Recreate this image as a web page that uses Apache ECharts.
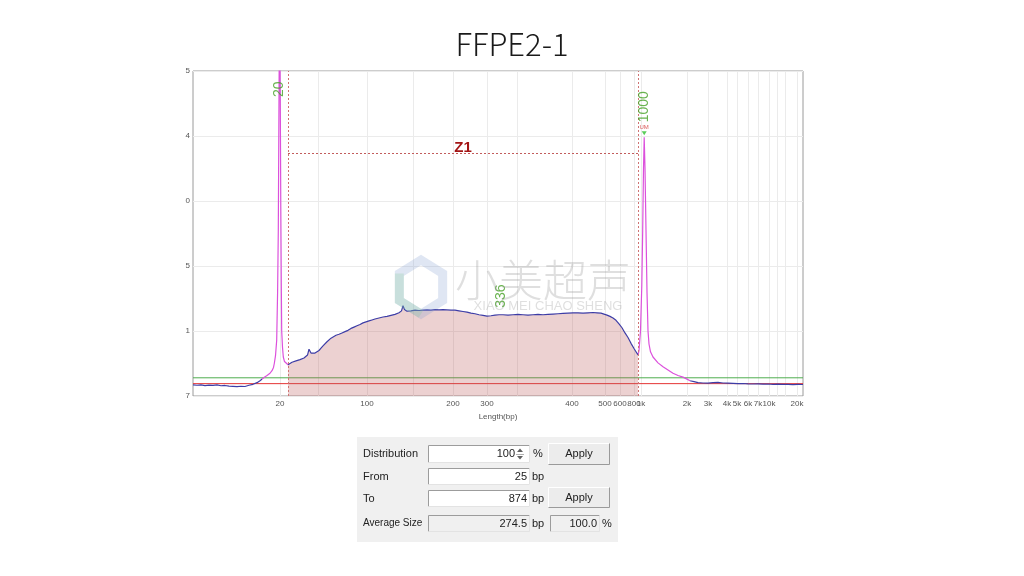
<!DOCTYPE html>
<html>
<head>
<meta charset="utf-8">
<script src="https://cdn.jsdelivr.net/npm/echarts@6/dist/echarts.min.js"></script>
<style>
  html, body { margin: 0; padding: 0; background: #ffffff; }
  #chart { width: 1024px; height: 576px; }
</style>
</head>
<body>
<div id="chart"></div>
<script>
// Electropherogram of sample FFPE2-1: fluorescence signal against migration time,
// with the size ladder (bp) printed along the time axis, plus the smear-analysis panel.

const sampleTitle = 'FFPE2-1';

// Size ladder: printed size and its migration time (s)
const ladderLabels = ['20', '100', '200', '300', '400', '500', '600', '800', '1k', '2k', '3k', '4k', '5k', '6k', '7k', '10k', '20k'];
const ladderTimes  = [8.7, 17.4, 26.0, 29.4, 37.9, 41.2, 42.7, 44.1, 44.8, 49.4, 51.5, 53.4, 54.4, 55.5, 56.5, 57.6, 60.4];
// further grid positions without a printed size
const minorGridTimes = [12.5, 22.0, 32.4, 58.4, 59.2];

// y tick text as printed (cut off at the left margin of the trace window)
const yTickLabels = ['7', '1', '5', '0', '4', '5'];

// Signal trace [time (s), signal]
const signalTrace = [
  [0.0, 0.170], [0.4, 0.165], [0.8, 0.172], [1.2, 0.160], [1.6, 0.168], [2.0, 0.163], [2.4, 0.170],
  [2.8, 0.158], [3.2, 0.162], [3.6, 0.152], [4.0, 0.148], [4.4, 0.143], [4.8, 0.150], [5.2, 0.146],
  [5.6, 0.165], [6.0, 0.180], [6.4, 0.205], [6.7, 0.235], [6.9, 0.260],
  // lower marker
  [7.1, 0.285], [7.4, 0.315], [7.7, 0.350], [7.9, 0.390], [8.05, 0.440], [8.13, 0.500], [8.25, 0.620],
  [8.37, 0.860], [8.46, 1.600], [8.53, 2.550], [8.60, 4.600], [8.66, 6.200], [8.72, 4.800], [8.78, 2.900],
  [8.83, 1.700], [8.87, 1.000], [8.95, 0.750], [9.03, 0.600], [9.15, 0.530], [9.30, 0.500], [9.5, 0.480],
  // sample smear
  [9.7, 0.500], [9.9, 0.520], [10.1, 0.515], [10.3, 0.540], [10.5, 0.550], [10.7, 0.560], [10.9, 0.575],
  [11.1, 0.585], [11.3, 0.600], [11.45, 0.630], [11.6, 0.720], [11.7, 0.690], [11.8, 0.660], [12.0, 0.645],
  [12.2, 0.660], [12.4, 0.680], [12.6, 0.700], [12.8, 0.735], [13.0, 0.770], [13.2, 0.800], [13.4, 0.835],
  [13.6, 0.860], [13.8, 0.890], [14.0, 0.915], [14.3, 0.935], [14.6, 0.950], [14.9, 0.970], [15.2, 0.990],
  [15.5, 1.010], [15.8, 1.040], [16.1, 1.060], [16.4, 1.080], [16.7, 1.100], [17.0, 1.125], [17.3, 1.140],
  [17.6, 1.155], [17.9, 1.170], [18.2, 1.185], [18.6, 1.200], [19.0, 1.215], [19.4, 1.225], [19.8, 1.240],
  [20.2, 1.255], [20.6, 1.280], [20.85, 1.310], [21.0, 1.390], [21.15, 1.330], [21.4, 1.305], [21.8, 1.310],
  [22.2, 1.320], [22.6, 1.315], [23.0, 1.320], [23.4, 1.325], [23.8, 1.320], [24.2, 1.330], [24.6, 1.325],
  [25.0, 1.330], [25.4, 1.325], [25.8, 1.320], [26.2, 1.320], [26.6, 1.310], [27.0, 1.300], [27.4, 1.290],
  [27.8, 1.275], [28.2, 1.265], [28.6, 1.250], [29.0, 1.240], [29.4, 1.230], [29.8, 1.235], [30.2, 1.245],
  [30.6, 1.250], [31.0, 1.250], [31.5, 1.245], [32.0, 1.250], [32.5, 1.255], [33.0, 1.250], [33.5, 1.245],
  [34.0, 1.250], [34.5, 1.255], [35.0, 1.250], [35.5, 1.255], [36.0, 1.260], [36.5, 1.265], [37.0, 1.270],
  [37.5, 1.275], [38.0, 1.280], [38.5, 1.280], [39.0, 1.275], [39.5, 1.280], [40.0, 1.285], [40.4, 1.280],
  [40.8, 1.275], [41.1, 1.260], [41.4, 1.245], [41.7, 1.225], [42.0, 1.200], [42.3, 1.165], [42.6, 1.110],
  [42.9, 1.050], [43.2, 0.970], [43.5, 0.900], [43.8, 0.810], [44.1, 0.730], [44.3, 0.680], [44.5, 0.630],
  // upper marker
  [44.6, 0.700], [44.75, 1.000], [44.88, 1.700], [44.97, 2.550], [45.05, 3.500], [45.12, 3.980], [45.2, 3.500],
  [45.3, 2.550], [45.4, 1.600], [45.5, 1.000], [45.6, 0.800], [45.75, 0.680], [46.0, 0.600], [46.5, 0.510],
  [47.0, 0.450], [47.5, 0.400], [48.0, 0.350], [48.5, 0.315], [49.0, 0.290], [49.4, 0.260], [49.7, 0.235],
  // tail
  [50.1, 0.220], [50.5, 0.205], [51.0, 0.200], [51.5, 0.197], [52.0, 0.205], [52.5, 0.210], [53.0, 0.200],
  [53.5, 0.198], [54.0, 0.195], [54.5, 0.190], [55.0, 0.192], [55.5, 0.188], [56.0, 0.185], [56.5, 0.187],
  [57.0, 0.183], [57.5, 0.185], [58.0, 0.180], [58.5, 0.182], [59.0, 0.178], [59.5, 0.180], [60.0, 0.176],
  [60.5, 0.178], [61.0, 0.177]
];

// time windows of the lower and upper marker peaks
const markerWindows = [[6.9, 9.5], [44.5, 49.7]];

// horizontal levels
const thresholdLevel = 0.28;
const baselineLevel = 0.19;

// called peaks
const peakSizes   = ['20', '336', '1000'];
const peakTimes   = [8.66, 30.8, 45.12];
const peakHeights = [6.2, 1.25, 3.98];
const upperMarkerIndex = 2;

// smear zone
const zoneName  = 'Z1';
const zoneTimes = [9.5, 44.5];
const zoneLevel = 3.74;

// smear analysis panel
const panelLabels  = ['Distribution', 'From', 'To', 'Average Size'];
const panelValues  = ['100', '25', '874', '274.5'];
const panelUnits   = ['%', 'bp', 'bp', 'bp'];
const panelPercent = '100.0';
const buttonText   = 'Apply';

// ---------------------------------------------------------------------------
const tMin = 0, tMax = 61, yMin = 0, yMax = 5;
const sampleColor = '#3d3da6';
const markerColor = '#dc50dc';
const uiFont = '"Liberation Sans", Arial, sans-serif';

const zoneTrace = signalTrace.filter(p => p[0] >= zoneTimes[0] && p[0] <= zoneTimes[1]);
const gridTimes = ladderTimes.concat(minorGridTimes).sort((a, b) => a - b);

function ladderText(v) {
  const i = ladderTimes.findIndex(t => Math.abs(t - v) < 1e-6);
  return i >= 0 ? ladderLabels[i] : '';
}

// peak size labels, written upward from just above each peak
const labelTop = 4.6;
const peakLabelData = peakSizes.map((s, i) => {
  const off = peakHeights[i] > yMax;
  return {
    value: [peakTimes[i], off ? labelTop : peakHeights[i]],
    label: { formatter: s, distance: off ? 0 : (i === upperMarkerIndex ? 15 : 7) }
  };
});

// ---- panel drawing helpers ----
function text(x, y, str, align, size) {
  return {
    type: 'text', x: x, y: y, z: 20,
    style: {
      text: str, fill: '#222', font: (size || 11) + 'px ' + uiFont,
      align: align, textAlign: align, verticalAlign: 'middle', textVerticalAlign: 'middle'
    }
  };
}
function line(x1, y1, x2, y2, color) {
  return { type: 'line', z: 20, shape: { x1: x1, y1: y1, x2: x2, y2: y2 }, style: { stroke: color, lineWidth: 1 } };
}
function sunkenBox(x, y, w, h, fill) {
  return [
    { type: 'rect', z: 19, shape: { x: x, y: y, width: w, height: h }, style: { fill: fill } },
    line(x + 0.5, y + 0.5, x + w - 0.5, y + 0.5, '#9c9c9c'),
    line(x + 0.5, y + 0.5, x + 0.5, y + h - 0.5, '#9c9c9c'),
    line(x + w - 0.5, y + 0.5, x + w - 0.5, y + h - 0.5, '#e3e3e3'),
    line(x + 0.5, y + h - 0.5, x + w - 0.5, y + h - 0.5, '#e3e3e3')
  ];
}
function button(x, y, w, h, str) {
  return [
    { type: 'rect', z: 19, shape: { x: x, y: y, width: w, height: h }, style: { fill: '#ececec' } },
    line(x + 0.5, y + 0.5, x + w - 0.5, y + 0.5, '#ffffff'),
    line(x + 0.5, y + 0.5, x + 0.5, y + h - 0.5, '#ffffff'),
    line(x + w - 0.5, y + 0.5, x + w - 0.5, y + h - 0.5, '#9a9a9a'),
    line(x + 0.5, y + h - 0.5, x + w - 0.5, y + h - 0.5, '#9a9a9a'),
    text(x + w / 2, y + h / 2, str, 'center')
  ];
}

const rowBoxes = [[445, 18], [468, 17], [490, 17], [515, 17]];
const panel = [{ type: 'rect', z: 18, shape: { x: 357, y: 437, width: 261, height: 105 }, style: { fill: '#f0f0f0' } }];
rowBoxes.forEach(([by, bh], i) => {
  const cy = by + bh / 2;
  panel.push(...sunkenBox(428, by, 102, bh, i === 3 ? '#f0f0f0' : '#ffffff'));
  panel.push(text(363, cy, panelLabels[i], 'left', i === 3 ? 10 : 11));
  panel.push(text(i === 0 ? 515 : 527, cy, panelValues[i], 'right'));
  panel.push(text(i === 0 ? 533 : 532, cy, panelUnits[i], 'left'));
});
// spinner of the distribution field
panel.push(
  { type: 'polygon', z: 21, shape: { points: [[517, 452], [523, 452], [520, 448.5]] }, style: { fill: '#606060' } },
  { type: 'polygon', z: 21, shape: { points: [[517, 456], [523, 456], [520, 459.5]] }, style: { fill: '#606060' } },
  line(516, 454.5, 524, 454.5, '#b0b0b0')
);
panel.push(...button(548, 443, 62, 22, buttonText));
panel.push(...button(548, 487, 62, 21, buttonText));
panel.push(...sunkenBox(550, 515, 50, 17, '#f0f0f0'));
panel.push(text(597, 523.5, panelPercent, 'right'));
panel.push(text(602, 523.5, '%', 'left'));

// faint brand mark over the trace window
const hex = [];
for (let k = 0; k < 6; k++) {
  const a = Math.PI / 6 + k * Math.PI / 3;
  hex.push([421 + 25 * Math.cos(a), 287 + 27 * Math.sin(a)]);
}
const watermark = [
  { type: 'polygon', z: 30, shape: { points: hex }, style: { fill: null, stroke: 'rgba(120,150,205,0.24)', lineWidth: 9 } },
  { type: 'polyline', z: 30, shape: { points: [hex[1], hex[2], hex[3]] }, style: { fill: null, stroke: 'rgba(120,200,140,0.22)', lineWidth: 9 } },
  { type: 'text', z: 30, x: 455, y: 280, style: { text: '小美超声', fill: 'rgba(150,150,150,0.3)', font: '300 44px "Noto Sans CJK SC"', verticalAlign: 'middle', textVerticalAlign: 'middle' } },
  { type: 'text', z: 30, x: 548, y: 306, style: { text: 'XIAO MEI CHAO SHENG', fill: 'rgba(150,150,150,0.3)', font: '13px ' + uiFont, align: 'center', textAlign: 'center', verticalAlign: 'middle', textVerticalAlign: 'middle' } }
];

const dotted = { type: [2, 2], width: 1 };

const option = {
  animation: false,
  backgroundColor: '#ffffff',
  title: {
    text: sampleTitle, left: 'center', top: 24,
    textStyle: { fontSize: 31, fontWeight: 300, color: '#1a1a1a', fontFamily: '"Noto Sans CJK SC", "Noto Sans", sans-serif' }
  },
  grid: {
    left: 193, top: 71, width: 610, height: 325,
    show: true, borderColor: '#9a9a9a', borderWidth: 1, backgroundColor: '#ffffff',
    outerBoundsMode: 'none', containLabel: false
  },
  xAxis: {
    type: 'value', min: tMin, max: tMax,
    axisLine: { show: false },
    axisTick: { show: false, customValues: gridTimes },
    splitLine: { show: true, lineStyle: { color: '#ebebeb', width: 1 } },
    axisLabel: {
      customValues: ladderTimes, formatter: ladderText,
      fontSize: 8, color: '#555', margin: 4, fontFamily: uiFont
    },
    name: 'Length(bp)', nameLocation: 'middle', nameGap: 9,
    nameTextStyle: { fontSize: 8, color: '#555', fontFamily: uiFont }
  },
  yAxis: {
    type: 'value', min: yMin, max: yMax, interval: 1,
    axisLine: { show: false }, axisTick: { show: false },
    splitLine: { show: true, lineStyle: { color: '#ebebeb', width: 1 } },
    axisLabel: { formatter: v => yTickLabels[Math.round(v)] || '', fontSize: 8, color: '#555', margin: 3, fontFamily: uiFont }
  },
  visualMap: {
    show: false, type: 'piecewise', seriesIndex: 3, dimension: 0,
    pieces: markerWindows.map(w => ({ gte: w[0], lte: w[1], color: markerColor })),
    outOfRange: { color: sampleColor }
  },
  series: [
    {
      name: 'threshold', type: 'line', z: 1, symbol: 'none', silent: true,
      data: [[tMin, thresholdLevel], [tMax, thresholdLevel]],
      lineStyle: { color: '#4fae4f', width: 1 }
    },
    {
      name: 'baseline', type: 'line', z: 1, symbol: 'none', silent: true,
      data: [[tMin, baselineLevel], [tMax, baselineLevel]],
      lineStyle: { color: '#e53535', width: 1 }
    },
    {
      name: zoneName, type: 'line', z: 2, symbol: 'none', silent: true,
      data: zoneTrace,
      lineStyle: { width: 0, opacity: 0 },
      areaStyle: { color: 'rgba(188,88,88,0.40)', origin: 'start' },
      markLine: {
        silent: true, symbol: ['none', 'none'],
        label: { show: false },
        lineStyle: Object.assign({ color: '#cf7474' }, dotted),
        data: [
          { xAxis: zoneTimes[0] },
          { xAxis: zoneTimes[1] },
          [
            {
              coord: [zoneTimes[0], zoneLevel],
              lineStyle: Object.assign({ color: '#c25c5c' }, dotted),
              label: {
                show: true, formatter: zoneName, position: 'middle', distance: -2,
                color: '#a31515', fontSize: 15, fontWeight: 'bold', fontFamily: uiFont
              }
            },
            { coord: [zoneTimes[1], zoneLevel] }
          ]
        ]
      }
    },
    {
      name: 'signal', type: 'line', z: 3, symbol: 'none', silent: true,
      data: signalTrace,
      lineStyle: { width: 1.2 }
    },
    {
      name: 'peak sizes', type: 'scatter', z: 5, symbolSize: 0, silent: true,
      data: peakLabelData,
      label: {
        show: true, position: 'top', rotate: 90, align: 'left', verticalAlign: 'middle',
        color: '#45a024', fontSize: 14, fontFamily: uiFont
      }
    },
    {
      name: 'upper marker', type: 'scatter', z: 6, silent: true,
      data: [[peakTimes[upperMarkerIndex], peakHeights[upperMarkerIndex]]],
      symbol: 'triangle', symbolRotate: 180, symbolSize: [5, 4], symbolOffset: [0, -4],
      itemStyle: { color: '#2fc02f' },
      label: { show: true, formatter: 'UM', position: 'top', distance: 1, color: '#d03030', fontSize: 6, fontFamily: uiFont }
    }
  ],
  graphic: { elements: panel.concat(watermark) }
};

const chart = echarts.init(document.getElementById('chart'));
chart.setOption(option);
</script>
</body>
</html>
